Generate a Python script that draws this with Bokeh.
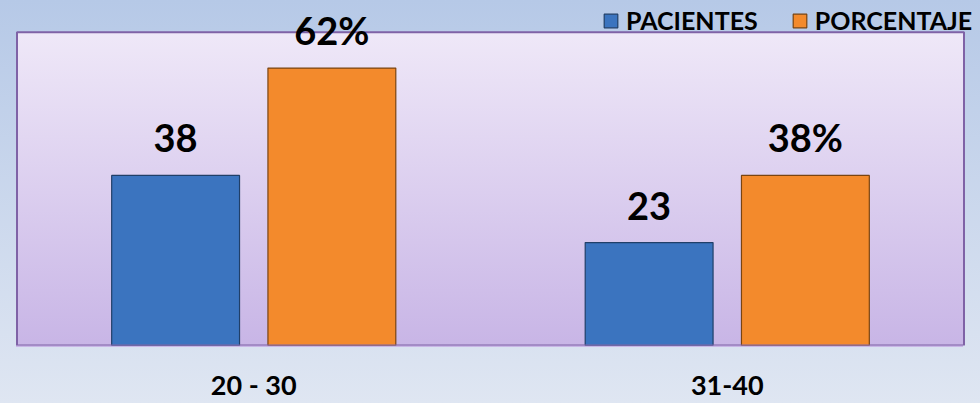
from bokeh.plotting import figure
from bokeh.models import (ColumnDataSource, FactorRange, Range1d, LabelSet, Legend,
                          LegendItem, InlineStyleSheet, GlobalInlineStyleSheet, BoxAnnotation)
from bokeh.core.properties import value
from bokeh.transform import dodge
from bokeh.embed import file_html
from bokeh.resources import INLINE

# ---- data ----
categories = ["20 - 30", "31-40"]
pacientes = [38, 23]
porcentaje = [62, 38]
pacientes_labels = ["38", "23"]
porcentaje_labels = ["62%", "38%"]
series_names = ["PACIENTES", "PORCENTAJE"]
y_max = 70          # top of the visible plot box
y_view = 77.1       # range top, leaves headroom above the box for the legend

src = ColumnDataSource(dict(cat=categories, pac=pacientes, por=porcentaje,
                            pac_lbl=pacientes_labels, por_lbl=porcentaje_labels))

W, H = 980, 403
p = figure(width=W, height=H,
           x_range=FactorRange(*categories, range_padding=0.0348, range_padding_units="absolute"),
           y_range=Range1d(0, y_view), output_backend="svg", toolbar_location=None,
           min_border_left=0, min_border_right=0, min_border_top=0, min_border_bottom=56)

p.border_fill_alpha = 0
p.background_fill_alpha = 0
p.outline_line_color = None

p.stylesheets = [
    GlobalInlineStyleSheet(css="html { min-height: 100%; background: linear-gradient(#b6c9e7, #dfe6f2); }"),
    InlineStyleSheet(css=":host { background: linear-gradient(#efe8f8, #c8b5e6) no-repeat; "
                         "background-position: 16px 32px; background-size: 947px 315px; }"),
]

box = BoxAnnotation(bottom=0, top=y_max, left=0, right=len(categories),
                    fill_alpha=0, line_color="#7f62a6", line_alpha=1, line_width=2)
p.add_layout(box)

font = "Lato"
bw = 0.27
off = 0.165
r1 = p.vbar(x=dodge("cat", -off, range=p.x_range), top="pac", width=bw, source=src,
            fill_color="#3b74bf", line_color="#203f68", line_width=1.2)
r2 = p.vbar(x=dodge("cat", off, range=p.x_range), top="por", width=bw, source=src,
            fill_color="#f38a2c", line_color="#7a4410", line_width=1.2)

for xcol, ycol, tcol in [(-off, "pac", "pac_lbl"), (off, "por", "por_lbl")]:
    lbl = LabelSet(x=dodge("cat", xcol, range=p.x_range), y=ycol, text=tcol, source=src,
                   y_offset=23, text_align="center", text_baseline="alphabetic",
                   text_font=value(font), text_font_style="bold", text_font_size="38px",
                   text_color="black")
    p.add_layout(lbl)

p.yaxis.visible = False
p.xgrid.visible = False
p.ygrid.visible = False
p.xaxis.axis_line_color = None
p.xaxis.major_tick_line_color = None
p.xaxis.minor_tick_line_color = None
p.xaxis.major_tick_out = 0
p.xaxis.major_tick_in = 0
p.xaxis.major_label_text_font = font
p.xaxis.major_label_text_font_style = "bold"
p.xaxis.major_label_text_font_size = "27px"
p.xaxis.major_label_text_line_height = 1.0
p.xaxis.major_label_text_color = "black"
p.xaxis.major_label_standoff = 22

legend = Legend(items=[LegendItem(label=series_names[0], renderers=[r1]),
                       LegendItem(label=series_names[1], renderers=[r2])],
                orientation="horizontal", location=(602, 310),
                label_text_font=font, label_text_font_style="bold",
                label_text_font_size="25px", label_text_color="black",
                glyph_width=17, glyph_height=17, label_standoff=7, spacing=33,
                padding=0, margin=0, background_fill_alpha=0, border_line_color=None)
p.add_layout(legend, "center")

open("out.html", "w").write(file_html(p, INLINE))
